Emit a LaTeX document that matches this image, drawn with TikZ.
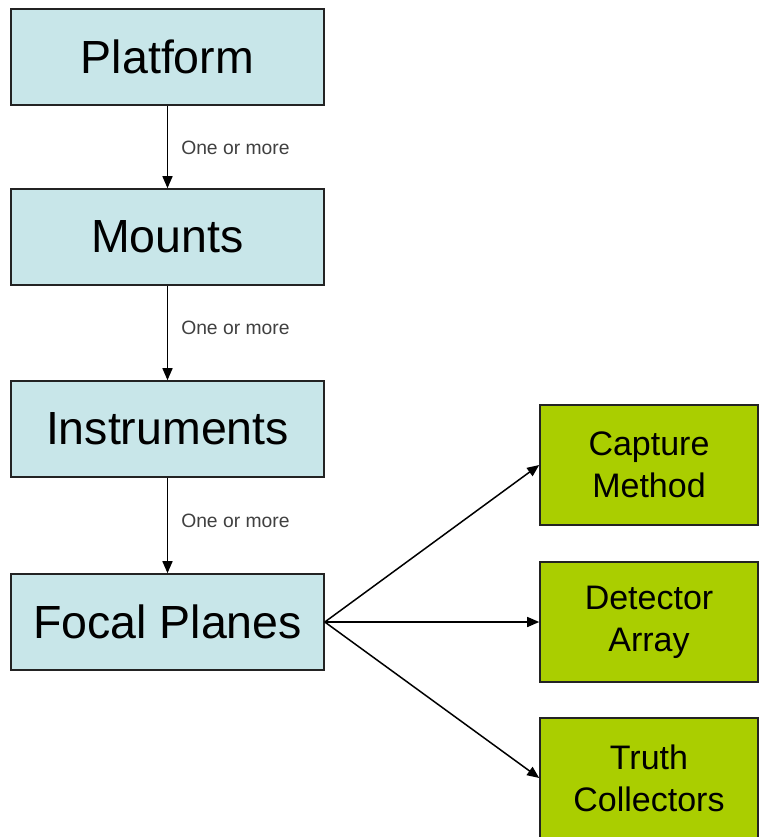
\documentclass[tikz,border=0pt]{standalone}
\usepackage{fontspec}
\setmainfont{Liberation Sans}
\usetikzlibrary{arrows.meta}
\definecolor{bluefill}{RGB}{200,230,233}
\definecolor{greenfill}{RGB}{170,206,0}
\definecolor{edge}{RGB}{35,35,35}
\begin{document}
\begin{tikzpicture}[x=1pt,y=-1pt,
  bluebox/.style={draw=edge,line width=1.6pt,fill=bluefill,minimum width=313pt,minimum height=96pt,inner sep=0pt,font=\fontsize{46.5}{50}\selectfont},
  greenbox/.style={draw=edge,line width=1.6pt,fill=greenfill,minimum width=218pt,minimum height=120pt,inner sep=0pt,align=center,font=\fontsize{34}{42}\selectfont},
  conn/.style={draw=black,line width=1.5pt,-{Triangle[length=12pt,width=10pt]}},
  lbl/.style={anchor=west,inner sep=0pt,font=\fontsize{19.3}{21}\selectfont,text=black!75}]
\useasboundingbox[fill=white] (0,0) rectangle (760,837);
\node[bluebox] (platform) at (167.5,57) {Platform};
\node[bluebox] (mounts) at (167.5,237) {Mounts};
\node[bluebox] (instr) at (167.5,429) {Instruments};
\node[bluebox] (focal) at (167.5,622) {Focal Planes};
\node[greenbox] (capture) at (649,465) {Capture\\Method};
\node[greenbox] (detector) at (649,622) {Detector\\Array};
\node[greenbox] (truth) at (649,778) {Truth\\Collectors};
\draw[conn] (platform) -- (mounts) node[pos=0.51,xshift=13pt,lbl] {One or more};
\draw[conn] (mounts) -- (instr) node[pos=0.45,xshift=13pt,lbl] {One or more};
\draw[conn] (instr) -- (focal) node[pos=0.45,xshift=13pt,lbl] {One or more};
\draw[conn] (focal.east) -- (capture.west);
\draw[conn] (focal.east) -- (detector.west);
\draw[conn] (focal.east) -- (truth.west);
\end{tikzpicture}
\end{document}
